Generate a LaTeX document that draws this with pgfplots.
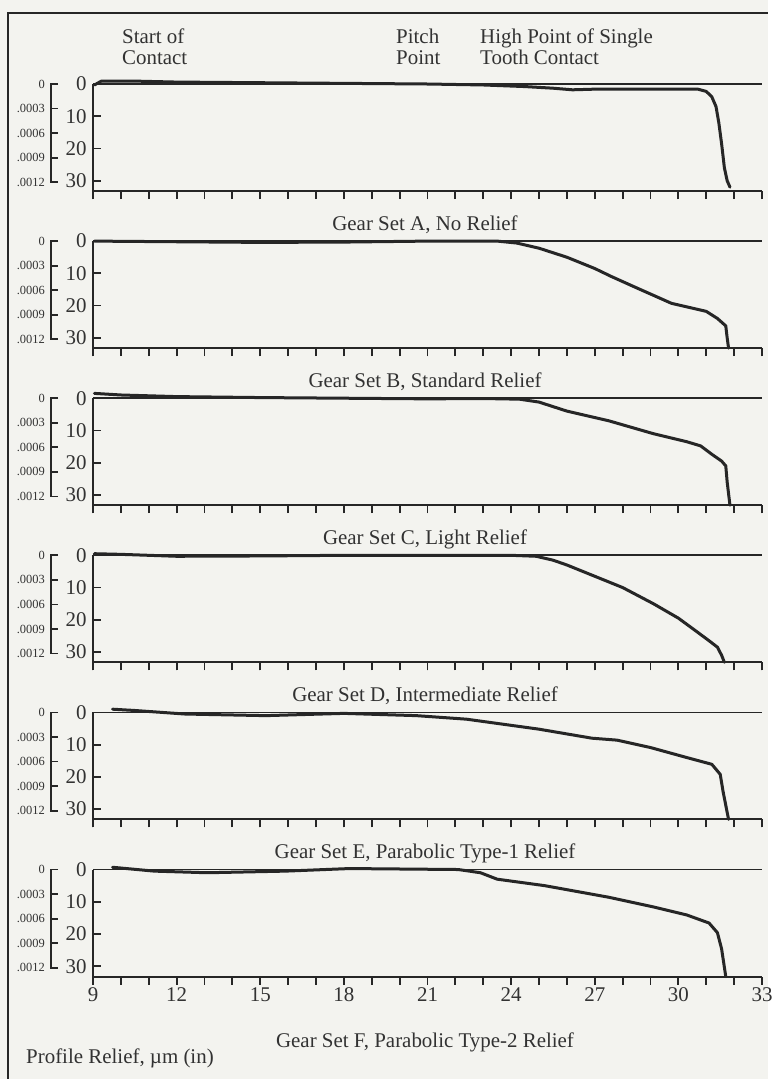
\documentclass[border=0pt]{standalone}
\usepackage{fontspec}
\setmainfont{Liberation Serif}
\usepackage{pgfplots}
\pgfplotsset{compat=1.18}
\definecolor{ink}{RGB}{38,38,38}
\definecolor{txt}{RGB}{50,50,50}
\definecolor{paper}{RGB}{243,243,239}
\newcommand\bigf{\fontsize{21}{21}\selectfont}
\newcommand\smallf{\fontsize{12.5}{12.5}\selectfont}
\pgfplotsset{
  panel/.style={
    width=669bp, height=107bp, scale only axis,
    xmin=9, xmax=33, ymin=-33.2, ymax=0, clip=false,
    axis x line*=bottom, axis y line*=left,
    axis line style={ink, line width=2bp},
    xtick={9,12,...,33}, minor xtick={9,...,33},
    ytick={-30,-20,-10,0}, yticklabels={30,20,10,0},
    xtick align=outside, ytick align=inside,
    major tick length=8bp, minor tick length=8bp,
    every tick/.style={ink, line width=1.8bp},
    every minor tick/.style={ink, line width=1.8bp},
    tick label style={font=\bigf, text=txt},
    yticklabel style={xshift=-3bp},
    xticklabels={},
    /pgf/number format/assume math mode=true,
  },
  curve/.style={ink, line width=3bp, line join=round, line cap=round},
  zero/.style={ink, line width=1.8bp},
}
\begin{document}
\begin{tikzpicture}
\begin{scope}[x=1bp,y=1bp]
\fill[paper] (0,0) rectangle (768,-1079);
\path[use as bounding box] (0,0) rectangle (768,-1079);
\draw[ink, line width=2.5bp] (8,-1079) -- (8,-13) -- (768,-13);

% top annotations
\node[anchor=base west, inner sep=0, font=\bigf, text=txt] at (122,-43) {Start of};
\node[anchor=base west, inner sep=0, font=\bigf, text=txt] at (122,-64) {Contact};
\node[anchor=base west, inner sep=0, font=\bigf, text=txt] at (396,-43) {Pitch};
\node[anchor=base west, inner sep=0, font=\bigf, text=txt] at (396,-64) {Point};
\node[anchor=base west, inner sep=0, font=\bigf, text=txt] at (480,-43) {High Point of Single};
\node[anchor=base west, inner sep=0, font=\bigf, text=txt] at (480,-64) {Tooth Contact};

% secondary inch scales and panel titles
\foreach \yz/\ttl/\tb in {84/{Gear Set A, No Relief}/230,
  241.1/{Gear Set B, Standard Relief}/387.1,
  398.2/{Gear Set C, Light Relief}/544.2,
  555.3/{Gear Set D, Intermediate Relief}/701.3,
  712.4/{Gear Set E, Parabolic Type-1 Relief}/858.4,
  869.5/{Gear Set F, Parabolic Type-2 Relief}/1047} {
  \draw[ink, line width=1.8bp] (58,-\yz) -- (51,-\yz) -- (51,-\yz-98.2) -- (58,-\yz-98.2);
  \foreach \d/\l in {0/0, 24.55/.0003, 49.1/.0006, 73.65/.0009, 98.2/.0012} {
    \draw[ink, line width=1.8bp] (51,-\yz-\d) -- (58,-\yz-\d);
    \node[anchor=east, inner sep=0, font=\smallf, text=txt] at (45,-\yz-\d) {\l};
  }
  \node[anchor=base, inner sep=0, font=\bigf, text=txt] at (425,-\tb) {\ttl};
}
\node[anchor=base west, inner sep=0, font=\bigf, text=txt] at (26,-1063) {Profile Relief, µm (in)};
\end{scope}

% Panel A
\begin{axis}[panel, at={(93bp,-84bp)}, anchor=north west]
\addplot[zero] coordinates {(9,0) (33,0)};
\addplot[curve] coordinates {(9.05,-0.3) (9.3,0.9) (10.5,0.9) (12,0.6) (15,0.4) (18,0.2) (21,0) (23,-0.3) (24.5,-0.8) (25.5,-1.3) (26.2,-1.8) (27,-1.6) (29,-1.6) (30.7,-1.6) (31.0,-2.3) (31.2,-4) (31.35,-7) (31.45,-12) (31.55,-18.5) (31.65,-26) (31.75,-30) (31.85,-32)};
\end{axis}
% Panel B
\begin{axis}[panel, at={(93bp,-241.1bp)}, anchor=north west]
\addplot[zero] coordinates {(9,0) (33,0)};
\addplot[curve] coordinates {(9.05,0) (12,-0.2) (15,-0.4) (18,-0.3) (21,0) (23.5,0) (24.2,-0.6) (25,-2.2) (26,-5) (27,-8.5) (27.6,-11) (28.5,-14.5) (29.75,-19.3) (30.5,-20.8) (31,-21.8) (31.4,-24) (31.7,-26.3) (31.75,-30) (31.8,-33.2)};
\end{axis}
% Panel C
\begin{axis}[panel, at={(93bp,-398.2bp)}, anchor=north west]
\addplot[zero] coordinates {(9,0) (33,0)};
\addplot[curve] coordinates {(9.05,1.5) (10,1.0) (12,0.5) (15,0.2) (18,0) (21,-0.2) (23,-0.1) (24.3,-0.3) (25,-1.2) (26,-4) (27.5,-7) (29.1,-11) (30.3,-13.5) (30.8,-14.8) (31.2,-17.4) (31.55,-19.5) (31.7,-21) (31.75,-26) (31.85,-33.2)};
\end{axis}
% Panel D
\begin{axis}[panel, at={(93bp,-555.3bp)}, anchor=north west]
\addplot[zero] coordinates {(9,0) (33,0)};
\addplot[curve] coordinates {(9.05,0.5) (10,0.3) (12,-0.3) (15,-0.2) (18,0) (21,0) (24,0) (24.9,-0.3) (25.5,-1.5) (26,-3) (27,-6.5) (28,-10) (29.1,-15) (30,-19.5) (30.6,-23.3) (31.1,-26.5) (31.4,-28.5) (31.55,-31) (31.65,-33.2)};
\end{axis}
% Panel E
\begin{axis}[panel, at={(93bp,-712.4bp)}, anchor=north west]
\addplot[zero] coordinates {(9,0) (33,0)};
\addplot[curve] coordinates {(9.7,1.0) (10.5,0.6) (12.3,-0.5) (15.2,-1.0) (18,-0.3) (20.6,-1.0) (22.4,-2.1) (25,-5.2) (26.9,-8) (27.8,-8.6) (29,-10.9) (30.3,-14) (31.2,-16.1) (31.5,-19.2) (31.6,-24.4) (31.8,-33.2)};
\end{axis}
% Panel F
\begin{axis}[panel, at={(93bp,-869.5bp)}, anchor=north west,
  xticklabels={9,12,15,18,21,24,27,30,33}]
\addplot[zero] coordinates {(9,0) (33,0)};
\addplot[curve] coordinates {(9.7,0.7) (11.2,-0.5) (13.1,-1.0) (15.9,-0.5) (18.2,0.3) (22.1,0) (22.9,-1.0) (23.5,-3.0) (25.2,-5) (27.5,-8.6) (29.1,-11.6) (30.3,-14.1) (31.1,-16.6) (31.4,-19.6) (31.55,-24.6) (31.7,-33.2)};
\end{axis}
\end{tikzpicture}
\end{document}
